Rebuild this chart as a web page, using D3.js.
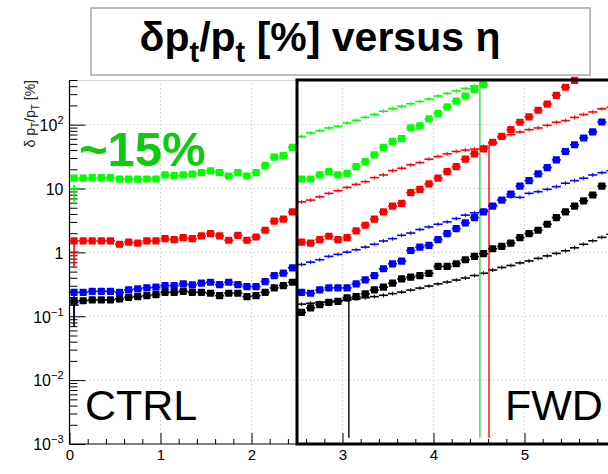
<!DOCTYPE html>
<html><head><meta charset="utf-8">
<script src="https://cdn.jsdelivr.net/npm/d3@7"></script>
<style>
body{margin:0;background:#fff}
svg{display:block}
text{font-family:"Liberation Sans",Arial,Helvetica,sans-serif}
</style>
</head><body>
<svg id="chart" width="608" height="474"></svg>
<script>
// ---- bin centres (pseudorapidity) ----
const ctrlEta = [0.05,0.15,0.25,0.35,0.45,0.55,0.65,0.75,0.85,0.95,1.05,1.15,1.25,1.35,1.45,1.55,1.65,1.75,1.85,1.95,2.05,2.15,2.25,2.35,2.45];
const fwdEta  = [2.55,2.65,2.75,2.85,2.95,3.05,3.15,3.25,3.35,3.45,3.55,3.65,3.75,3.85,3.95,4.05,4.15,4.25,4.35,4.45,4.55,4.65,4.75,4.85,4.95,5.05,5.15,5.25,5.35,5.45,5.55,5.65,5.75,5.85,5.95];

// ---- central tracker resolution [%] (markers) ----
const ctrlGreen = [14.5,14.5,14.8,14.8,14.8,14.0,14.0,14.0,14.1,14.1,16.3,15.9,16.3,16.8,17.7,18.9,17.7,15.7,17.7,15.7,17.7,22.9,31,32.9,44];
const ctrlRed   = [1.51,1.51,1.51,1.51,1.51,1.34,1.45,1.40,1.51,1.51,1.64,1.58,1.70,1.64,1.81,1.97,1.81,1.55,1.85,1.55,1.74,2.22,3.08,3.31,4.31];
const ctrlBlue  = [0.237,0.237,0.246,0.246,0.246,0.237,0.258,0.268,0.278,0.285,0.302,0.302,0.321,0.310,0.329,0.341,0.313,0.341,0.313,0.292,0.292,0.349,0.434,0.472,0.574];
const ctrlBlack = [0.175,0.175,0.180,0.180,0.180,0.187,0.198,0.203,0.210,0.218,0.237,0.237,0.246,0.237,0.237,0.229,0.210,0.229,0.229,0.203,0.210,0.237,0.278,0.302,0.341];

// ---- forward tracker resolution [%] (markers) ----
const fwdGreen = [14.1,14.1,16.3,18.4,16.3,17.3,22.0,26.4,33.7,44,54.6,60.2,88.8,96,123,149,190,233,279,356,427];
const fwdRed   = [1.45,1.40,1.58,1.79,1.58,1.70,2.17,2.66,3.31,4.31,5.30,5.85,8.6,9.7,11.8,14.5,18.4,22.0,28.8,34.9,41.6,53,65.5,83.4,109,132,168,210,288,385,493];
const fwdBlue  = [0.237,0.229,0.258,0.278,0.278,0.278,0.321,0.372,0.434,0.554,0.663,0.730,1.07,1.21,1.29,1.58,1.97,2.36,2.89,3.51,4.31,5.30,6.59,8.19,10.9,13.3,16.9,21.3,28.1,38,48.4,61.8,76.8,110];
const fwdBlack = [0.115,0.135,0.152,0.165,0.171,0.194,0.203,0.224,0.258,0.285,0.329,0.385,0.41,0.434,0.47,0.602,0.602,0.664,0.767,0.865,0.954,1.14,1.24,1.40,1.70,1.97,2.22,2.76,3.51,4.31,5.30,6.42,7.91,10.9];

// ---- reference resolution [%] (thin error-bar histograms) ----
const refGreen = [65.4,74.0,80.5,88.7,94.0,106,117,130,144,162,179,194,212,230,252,281,308,337,369,404];
const refRed   = [6.19,6.59,7.43,8.40,9.23,10.4,11.6,12.8,14.8,16.3,19.1,20.8,23.5,25.5,28.8,31.7,34.9,38.0,40.0,41.4,45.5,50.8,63,69.7,76.8,83.4,88.7,97.5,109,116,130,144,158,177,187];
const refBlue  = [0.647,0.703,0.767,0.865,0.931,1.01,1.10,1.21,1.34,1.51,1.64,1.85,2.01,2.28,2.50,2.76,3.00,3.39,3.83,4.16,4.59,5.50,6.59,7.43,7.26,8.40,8.91,9.71,10.7,12.1,13.3,14.5,16.3,17.7,19.0];
const refBlack = [0.155,0.160,0.165,0.170,0.175,0.180,0.187,0.195,0.203,0.213,0.226,0.239,0.257,0.276,0.297,0.321,0.343,0.369,0.397,0.434,0.472,0.530,0.581,0.624,0.684,0.735,0.805,0.881,0.964,1.06,1.18,1.34,1.52,1.72,1.92];

// first central reference bin: [value, lower, upper]
const refFirstEta = 0.05;
const refFirstGreen = [10, 5.85, 11.5];
const refFirstRed   = [1.01, 0.58, 1.45];
const refFirstBlue  = [0.165, 0.088, 0.268];
const refFirstBlack = [0.15, 0.068, 0.2];

// empty reference bins: eta position and level the line falls from
const dropEta   = [4.51, 4.61, 3.07];
const dropTop   = [480, 48, 0.18];
const dropFloor = 1.25e-3;

// ---- axes ----
const xTicks = [0,1,2,3,4,5,6];
const xLabels = [0,1,2,3,4,5];
const yDecades = [-3,-2,-1,0,1,2];
const yMin = 1e-3, yMax = 500;

const colors = {green:"#00ff00", red:"#ff0000", blue:"#0000ff", black:"#000000"};
const font = '"Liberation Sans",Arial,Helvetica,sans-serif';

const svg = d3.select("#chart");
const x = d3.scaleLinear().domain([0,6]).range([69.5,615.5]);
const y = d3.scaleLog().domain([yMin,yMax]).range([444,80]);
const binHalf = 0.05;

// title box
svg.append("rect").attr("x",91).attr("y",8).attr("width",499).attr("height",67)
  .attr("fill","#fff").attr("stroke","#a8a8a8").attr("stroke-width",1.5);
const title = svg.append("text").attr("x",320).attr("y",51).attr("text-anchor","middle")
  .attr("font-size",41).attr("font-weight","bold").attr("fill","#000");
title.append("tspan").text("δp");
title.append("tspan").attr("font-size",29).attr("dy",11).text("t");
title.append("tspan").attr("dy",-11).text("/p");
title.append("tspan").attr("font-size",29).attr("dy",11).text("t");
title.append("tspan").attr("dy",-11).text(" [%] versus η");

// grid
const grid = svg.append("g").attr("stroke","#cfcfcf").attr("stroke-width",1).attr("stroke-dasharray","1.5,2.5");
xTicks.filter(d=>d>0).forEach(d=>{
  grid.append("line").attr("x1",x(d)).attr("x2",x(d)).attr("y1",y(yMax)).attr("y2",y(yMin));
});
yDecades.filter(e=>e>-3).forEach(e=>{
  grid.append("line").attr("x1",x(0)).attr("x2",x(6)).attr("y1",y(Math.pow(10,e))).attr("y2",y(Math.pow(10,e)));
});
// faint frame top
svg.append("line").attr("x1",x(0)).attr("x2",x(2.5)).attr("y1",y(yMax)+0.5).attr("y2",y(yMax)+0.5)
  .attr("stroke","#d8d8d8").attr("stroke-width",1);

// x axis
const xMinor = d3.range(0,6.01,0.2).filter(v=>Math.abs(v-Math.round(v))>1e-6);
const xAxisMinor = d3.axisBottom(x).tickValues(xMinor).tickSizeInner(-5).tickSizeOuter(0).tickFormat("");
const xAxis = d3.axisBottom(x).tickValues(xTicks).tickSizeInner(-11).tickSizeOuter(0).tickPadding(5)
  .tickFormat(d => xLabels.includes(d) ? String(d) : "");
const gxm = svg.append("g").attr("transform",`translate(0,${y(yMin)})`).call(xAxisMinor);
const gx = svg.append("g").attr("transform",`translate(0,${y(yMin)})`).call(xAxis);
[gx,gxm].forEach(g=>{g.select(".domain").remove(); g.selectAll("line").attr("stroke","#000");});
gx.selectAll("text").attr("font-size",15).attr("font-family",font).attr("fill","#000");
gx.selectAll("text").filter(d=>!xLabels.includes(d)).remove();
svg.append("line").attr("x1",x(0)).attr("x2",x(6)).attr("y1",y(yMin)).attr("y2",y(yMin)).attr("stroke","#000").attr("stroke-width",1.2);

// y axis
const yMinor = [];
yDecades.forEach(e=>{ for(let m=2;m<=9;m++){ const v=m*Math.pow(10,e); if(v<=yMax) yMinor.push(v);} });
const yAxisMinor = d3.axisLeft(y).tickValues(yMinor).tickSizeInner(-8).tickSizeOuter(0).tickFormat("");
const yAxis = d3.axisLeft(y).tickValues(yDecades.map(e=>Math.pow(10,e))).tickSizeInner(-16).tickSizeOuter(0).tickPadding(6).tickFormat("");
const gym = svg.append("g").attr("transform",`translate(${x(0)},0)`).call(yAxisMinor);
const gy = svg.append("g").attr("transform",`translate(${x(0)},0)`).call(yAxis);
[gy,gym].forEach(g=>{g.select(".domain").remove(); g.selectAll("line").attr("stroke","#000");});
gy.selectAll(".tick").each(function(d){
  const e = Math.round(Math.log10(d));
  const t = d3.select(this).append("text").attr("x",-6).attr("dy","0.36em")
    .attr("text-anchor","end").attr("font-size",16).attr("font-family",font).attr("fill","#000");
  if(e===0) t.text("1");
  else if(e===1) t.text("10");
  else { t.append("tspan").text("10"); t.append("tspan").attr("font-size",11).attr("dy",-7).text(String(e).replace("-","−")); }
});
svg.append("line").attr("x1",x(0)).attr("x2",x(0)).attr("y1",y(yMax)).attr("y2",y(yMin)).attr("stroke","#000").attr("stroke-width",1.2);

// y axis title
const yt = svg.append("text").attr("transform",`translate(35,${y(yMax)}) rotate(-90)`)
  .attr("text-anchor","end").attr("font-size",14).attr("fill","#222");
yt.append("tspan").text("δ p");
yt.append("tspan").attr("font-size",10).attr("dy",4).text("T");
yt.append("tspan").attr("dy",-4).text("/p");
yt.append("tspan").attr("font-size",10).attr("dy",4).text("T");
yt.append("tspan").attr("dy",-4).text(" [%]");

// region labels
svg.append("text").attr("x",79).attr("y",166).attr("font-size",49).attr("font-weight","bold")
  .attr("fill","#0dcc0d").text("~15%");
svg.append("text").attr("x",85).attr("y",420).attr("font-size",43).attr("fill","#000").text("CTRL");
svg.append("text").attr("x",505).attr("y",420).attr("font-size",43).attr("fill","#000").text("FWD");

// reference histograms: bin-wide dashes with tiny error ticks
const refLayer = svg.append("g");
function drawRef(vals, color){
  const g = refLayer.append("g").attr("stroke",color).attr("stroke-width",1.6);
  vals.forEach((v,i)=>{
    const e = fwdEta[i];
    g.append("line").attr("x1",x(e-binHalf)).attr("x2",x(e+binHalf)).attr("y1",y(v)).attr("y2",y(v));
    g.append("line").attr("x1",x(e)).attr("x2",x(e)).attr("y1",y(v)-2).attr("y2",y(v)+2).attr("stroke-width",1);
  });
}
drawRef(refGreen, colors.green);
drawRef(refRed, colors.red);
drawRef(refBlue, colors.blue);
drawRef(refBlack, colors.black);

// first central reference bin with its error bar
[[refFirstGreen,colors.green],[refFirstRed,colors.red],[refFirstBlue,colors.blue],[refFirstBlack,colors.black]].forEach(([b,c])=>{
  const g = refLayer.append("g").attr("stroke",c).attr("stroke-width",1.6);
  g.append("line").attr("x1",x(refFirstEta-binHalf)).attr("x2",x(refFirstEta+binHalf)).attr("y1",y(b[0])).attr("y2",y(b[0]));
  g.append("line").attr("x1",x(refFirstEta)).attr("x2",x(refFirstEta)).attr("y1",y(b[2])).attr("y2",y(b[1]));
});

// empty reference bins fall to the floor
const dropColors = [colors.green, colors.red, colors.black];
dropEta.forEach((e,i)=>{
  refLayer.append("line").attr("x1",x(e)).attr("x2",x(e)).attr("y1",y(dropTop[i])).attr("y2",y(dropFloor))
    .attr("stroke", i===0 ? "#33dd44" : dropColors[i]).attr("stroke-width",1.4);
});

// measured points: square markers with bin-width error bars
const markLayer = svg.append("g");
function drawMarks(etas, vals, color){
  const g = markLayer.append("g");
  vals.forEach((v,i)=>{
    const e = etas[i];
    g.append("line").attr("x1",x(e-binHalf)).attr("x2",x(e+binHalf)).attr("y1",y(v)).attr("y2",y(v))
      .attr("stroke",color).attr("stroke-width",1.6);
    g.append("rect").attr("x",x(e)-3.6).attr("y",y(v)-3.6).attr("width",7.2).attr("height",7.2)
      .attr("rx",0.8).attr("fill",color);
  });
}
drawMarks(ctrlEta, ctrlGreen, colors.green);
drawMarks(ctrlEta, ctrlRed, colors.red);
drawMarks(ctrlEta, ctrlBlue, colors.blue);
drawMarks(ctrlEta, ctrlBlack, colors.black);
drawMarks(fwdEta, fwdGreen, colors.green);
drawMarks(fwdEta, fwdRed, colors.red);
drawMarks(fwdEta, fwdBlue, colors.blue);
drawMarks(fwdEta, fwdBlack, colors.black);

// forward region frame
svg.append("rect").attr("x",x(2.5)).attr("y",y(yMax)).attr("width",x(6)-x(2.5)+10).attr("height",y(yMin)-y(yMax))
  .attr("fill","none").attr("stroke","#000").attr("stroke-width",3);
</script>
</body></html>
